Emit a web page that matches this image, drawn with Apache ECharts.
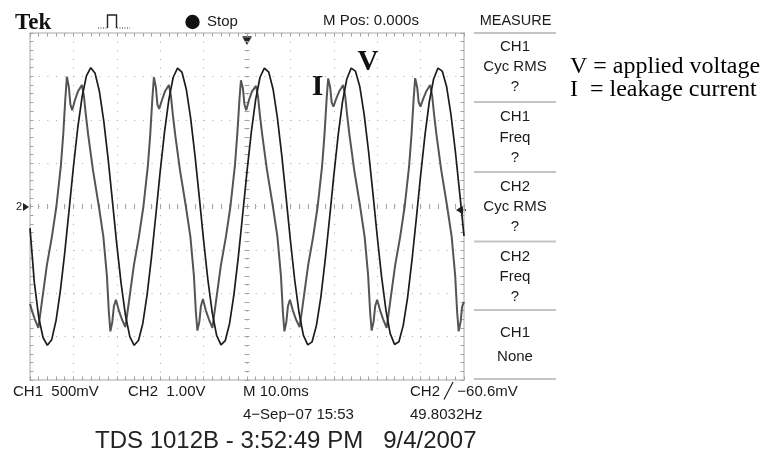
<!DOCTYPE html>
<html>
<head>
<meta charset="utf-8">
<script src="https://cdn.jsdelivr.net/npm/echarts@6/dist/echarts.min.js"></script>
<style>
html,body{margin:0;padding:0;background:#ffffff;}
#c{width:765px;height:466px;}
</style>
</head>
<body>
<div id="c"></div>
<script>
// ---- data (time in ms, amplitude in divisions) ----
const vTimes = [0,1,2,3,4,5,6,7,8,9,10,11,12,13,14,15,16,17,18,19,
  20,21,22,23,24,25,26,27,28,29,30,31,32,33,34,35,36,37,38,39,
  40,41,42,43,44,45,46,47,48,49,50,51,52,53,54,55,56,57,58,59,
  60,61,62,63,64,65,66,67,68,69,70,71,72,73,74,75,76,77,78,79,
  80,81,82,83,84,85,86,87,88,89,90,91,92,93,94,95,96,97,98,99,100];
const vValues = [-0.50,-1.75,-2.55,-3.02,-3.20,-3.07,-2.63,-1.94,-1.07,-0.09,
  0.91,1.81,2.53,3.01,3.20,3.07,2.65,1.97,1.10,0.12,
  -0.88,-1.78,-2.51,-3.00,-3.20,-3.09,-2.69,-2.02,-1.16,-0.19,
  0.81,1.72,2.47,2.98,3.19,3.10,2.71,2.05,1.19,0.22,
  -0.78,-1.70,-2.45,-2.97,-3.19,-3.09,-2.69,-2.02,-1.16,-0.19,
  0.81,1.72,2.47,2.98,3.19,3.10,2.71,2.05,1.19,0.22,
  -0.78,-1.70,-2.45,-2.97,-3.19,-3.12,-2.74,-2.10,-1.25,-0.29,
  0.71,1.64,2.41,2.94,3.19,3.12,2.76,2.12,1.28,0.32,
  -0.68,-1.61,-2.38,-2.93,-3.18,-3.12,-2.74,-2.10,-1.25,-0.29,
  0.71,1.64,2.41,2.94,3.19,3.12,2.76,2.12,1.28,0.32,-0.68];

const iTimes = [0,0.43,1.12,
  1.93,2.74,3.89,5.04,6.08,7.12,7.65,8.15,8.50,8.96,9.31,9.72,10.34,11.03,11.96,12.42,12.88,13.41,14.49,15.87,16.91,17.72,18.18,18.52,18.98,19.33,19.79,20.48,21.17,
  21.98,22.79,23.94,25.09,26.13,27.17,27.70,28.20,28.55,29.01,29.36,29.77,30.39,31.08,32.01,32.47,32.93,33.46,34.54,35.92,36.96,37.77,38.23,38.57,39.03,39.38,39.84,40.53,41.22,
  42.03,42.84,43.99,45.14,46.18,47.22,47.75,48.25,48.60,49.06,49.41,49.82,50.44,51.13,52.06,52.52,52.98,53.51,54.59,55.97,57.01,57.82,58.28,58.62,59.08,59.43,59.89,60.58,61.27,
  62.13,62.94,64.09,65.24,66.28,67.32,67.85,68.35,68.70,69.16,69.51,69.92,70.54,71.23,72.16,72.62,73.08,73.61,74.69,76.07,77.11,77.92,78.38,78.72,79.18,79.53,79.99,80.68,81.37,
  82.18,82.99,84.14,85.29,86.33,87.37,87.90,88.40,88.75,89.21,89.56,89.97,90.59,91.28,92.21,92.67,93.13,93.66,94.74,96.12,97.16,97.97,98.43,98.77,99.23,99.58,100];
const iValues = [-2.24,-2.40,-2.60,
  -2.80,-2.20,-1.35,-0.70,0,0.95,1.65,2.50,2.99,2.75,2.35,2.22,2.45,2.65,2.80,2.55,2.10,1.65,0.85,0,-0.70,-1.60,-2.45,-2.88,-2.65,-2.30,-2.15,-2.40,-2.60,
  -2.78,-2.20,-1.35,-0.70,0,0.95,1.65,2.50,2.98,2.75,2.35,2.25,2.45,2.65,2.80,2.55,2.10,1.65,0.85,0,-0.70,-1.60,-2.45,-2.86,-2.65,-2.30,-2.13,-2.40,-2.60,
  -2.80,-2.20,-1.35,-0.70,0,0.95,1.65,2.45,2.91,2.72,2.35,2.22,2.45,2.65,2.78,2.55,2.10,1.65,0.85,0,-0.70,-1.60,-2.45,-2.88,-2.65,-2.30,-2.15,-2.40,-2.60,
  -2.78,-2.20,-1.35,-0.70,0,0.95,1.65,2.48,2.95,2.75,2.40,2.30,2.48,2.65,2.80,2.55,2.10,1.65,0.85,0,-0.70,-1.60,-2.45,-2.86,-2.65,-2.30,-2.15,-2.40,-2.60,
  -2.80,-2.20,-1.35,-0.70,0,0.95,1.65,2.48,2.96,2.75,2.40,2.30,2.48,2.65,2.80,2.55,2.10,1.65,0.85,0,-0.70,-1.60,-2.45,-2.88,-2.65,-2.30,-2.20];

const timeRange = [0, 100];      // 10 divisions x 10.0 ms
const divRange = [-4, 4];        // 8 vertical divisions

const topTexts = ['Tek', 'Stop', 'M Pos: 0.000s', 'MEASURE'];
const measureLines = [['CH1','Cyc RMS','?'],['CH1','Freq','?'],['CH2','Cyc RMS','?'],['CH2','Freq','?'],['CH1','None']];
const bottomRow1 = ['CH1  500mV', 'CH2  1.00V', 'M 10.0ms', 'CH2 \u2571 \u221260.6mV'];
const bottomRow2 = ['4\u2212Sep\u221207 15:53', '49.8032Hz'];
const footer = 'TDS 1012B - 3:52:49 PM   9/4/2007';
const legendText = ['V = applied voltage', 'I  = leakage current'];

// ---- chart ----
const SANS = "'Liberation Sans', Arial, Helvetica, sans-serif";
const SERIF = "'Liberation Serif', 'Times New Roman', Times, serif";
const dotCol = '#a9a9a9';
const tickCol = '#a2a2a2';
const borderCol = '#c6c6c6';

function borderAxis(pos, isX) {
  return {
    type: 'value', position: pos,
    min: isX ? timeRange[0] : divRange[0], max: isX ? timeRange[1] : divRange[1], interval: isX ? 10 : 1,
    axisLine: { show: true, onZero: false, lineStyle: { color: borderCol, width: 1.5 } },
    axisTick: { show: true, inside: true, length: 3.5, lineStyle: { color: tickCol } },
    minorTick: { show: true, splitNumber: 5, length: 3.5, lineStyle: { color: tickCol } },
    axisLabel: { show: false },
    splitLine: { show: false }
  };
}
function centerAxis(isX, inside) {
  return {
    type: 'value', position: isX ? 'bottom' : 'left',
    offset: isX ? -173.5 : -217,
    min: isX ? timeRange[0] : divRange[0], max: isX ? timeRange[1] : divRange[1], interval: isX ? 10 : 1,
    axisLine: { show: false, onZero: false },
    axisTick: { show: true, inside: inside, length: 2.5, lineStyle: { color: tickCol } },
    minorTick: { show: true, splitNumber: 5, length: 2.5, lineStyle: { color: tickCol } },
    axisLabel: { show: false },
    splitLine: { show: false }
  };
}

const xMain = borderAxis('bottom', true);
xMain.splitLine = { show: true, lineStyle: { color: dotCol, width: 1, type: [1, 7.68] } };
const yMain = borderAxis('left', false);
yMain.splitLine = { show: true, lineStyle: { color: dotCol, width: 1, type: [1, 7.68] } };

function txt(x, y, text, font, align, fill) {
  return { type: 'text', x: x, y: y, silent: true,
    style: { text: text, font: font, fill: fill || '#1a1a1a',
      textAlign: align || 'left', align: align || 'left',
      textVerticalAlign: 'middle', verticalAlign: 'middle' } };
}

const graphics = [];
// header
graphics.push(txt(15, 23, topTexts[0], 'bold 23px ' + SERIF, 'left', '#111'));
graphics.push({ type: 'polyline', silent: true, shape: { points: [[98,28],[107,28]] }, style: { stroke: '#333', lineWidth: 1, lineDash: [1, 1.5] } });
graphics.push({ type: 'polyline', silent: true, shape: { points: [[107.5,28],[107.5,15],[116.5,15],[116.5,28]] }, style: { stroke: '#222', lineWidth: 1.4, fill: null } });
graphics.push({ type: 'polyline', silent: true, shape: { points: [[117,28],[130,28]] }, style: { stroke: '#333', lineWidth: 1, lineDash: [1, 1.5] } });
graphics.push({ type: 'circle', silent: true, shape: { cx: 192.5, cy: 22, r: 7.2 }, style: { fill: '#111' } });
graphics.push(txt(207, 21.5, topTexts[1], '15px ' + SANS));
graphics.push(txt(323, 21, topTexts[2], '15px ' + SANS));
graphics.push(txt(515.5, 20.5, topTexts[3], '14.5px ' + SANS, 'center'));

// measure panel
const sepY = [33, 102, 172, 241.5, 310, 379];
sepY.forEach(function (y) {
  graphics.push({ type: 'line', silent: true, shape: { x1: 474, y1: y, x2: 556, y2: y }, style: { stroke: '#c4c4c4', lineWidth: 2 } });
});
const rowY = [[46.7, 67.3, 87.3], [116.7, 138, 158], [186.7, 206.7, 227], [256.7, 276.7, 296.7], [333.3, 356.7]];
measureLines.forEach(function (lines, b) {
  lines.forEach(function (s, k) { graphics.push(txt(515, rowY[b][k], s, '15px ' + SANS, 'center')); });
});

// legend text at right
graphics.push(txt(570, 66.7, legendText[0], '24px ' + SERIF, 'left', '#000'));
graphics.push(txt(570, 89.5, legendText[1], '24px ' + SERIF, 'left', '#000'));

// trace labels on the graticule
graphics.push(txt(368, 63, 'V', 'bold 29px ' + SERIF, 'center', '#111'));
graphics.push(txt(317.5, 87, 'I', 'bold 30px ' + SERIF, 'center', '#111'));

// markers
graphics.push(txt(16, 207, '2', '11px ' + SANS, 'left', '#222'));
graphics.push({ type: 'polygon', silent: true, shape: { points: [[23,203],[29,207],[23,211]] }, style: { fill: '#222' } });
graphics.push({ type: 'polygon', silent: true, shape: { points: [[463,205.5],[456,210],[463,214.5]] }, style: { fill: '#222' } });
graphics.push({ type: 'line', silent: true, shape: { x1: 463, y1: 210, x2: 466, y2: 210 }, style: { stroke: '#222', lineWidth: 1.5 } });
graphics.push({ type: 'line', silent: true, shape: { x1: 242.5, y1: 37, x2: 251.5, y2: 37 }, style: { stroke: '#222', lineWidth: 1.5 } });
graphics.push({ type: 'polygon', silent: true, shape: { points: [[243,38],[251,38],[247,45]] }, style: { fill: '#222' } });

// bottom status
graphics.push(txt(13, 392, bottomRow1[0], '15px ' + SANS));
graphics.push(txt(128, 392, bottomRow1[1], '15px ' + SANS));
graphics.push(txt(243, 392, bottomRow1[2], '15px ' + SANS));
graphics.push(txt(410, 392, bottomRow1[3], '15px ' + SANS));
graphics.push(txt(243, 415, bottomRow2[0], '15px ' + SANS));
graphics.push(txt(410, 415, bottomRow2[1], '15px ' + SANS));
graphics.push(txt(95, 441, footer, '24px ' + SANS, 'left', '#222'));

const chart = echarts.init(document.getElementById('c'), null, { renderer: 'canvas' });
chart.setOption({
  animation: false,
  backgroundColor: '#ffffff',
  grid: { left: 30, top: 33, right: 301, bottom: 86, containLabel: false },
  xAxis: [xMain, borderAxis('top', true), centerAxis(true, true), centerAxis(true, false)],
  yAxis: [yMain, borderAxis('right', false), centerAxis(false, true), centerAxis(false, false)],
  series: [
    { name: 'I', type: 'line', xAxisIndex: 0, yAxisIndex: 0, symbol: 'none', showSymbol: false,
      data: iTimes.map(function (t, k) { return [t, iValues[k]]; }),
      lineStyle: { color: '#555555', width: 2 }, z: 3 },
    { name: 'V', type: 'line', xAxisIndex: 0, yAxisIndex: 0, symbol: 'none', showSymbol: false,
      data: vTimes.map(function (t, k) { return [t, vValues[k]]; }),
      lineStyle: { color: '#1c1c1c', width: 1.7 }, z: 4 }
  ],
  graphic: graphics
});
</script>
</body>
</html>
